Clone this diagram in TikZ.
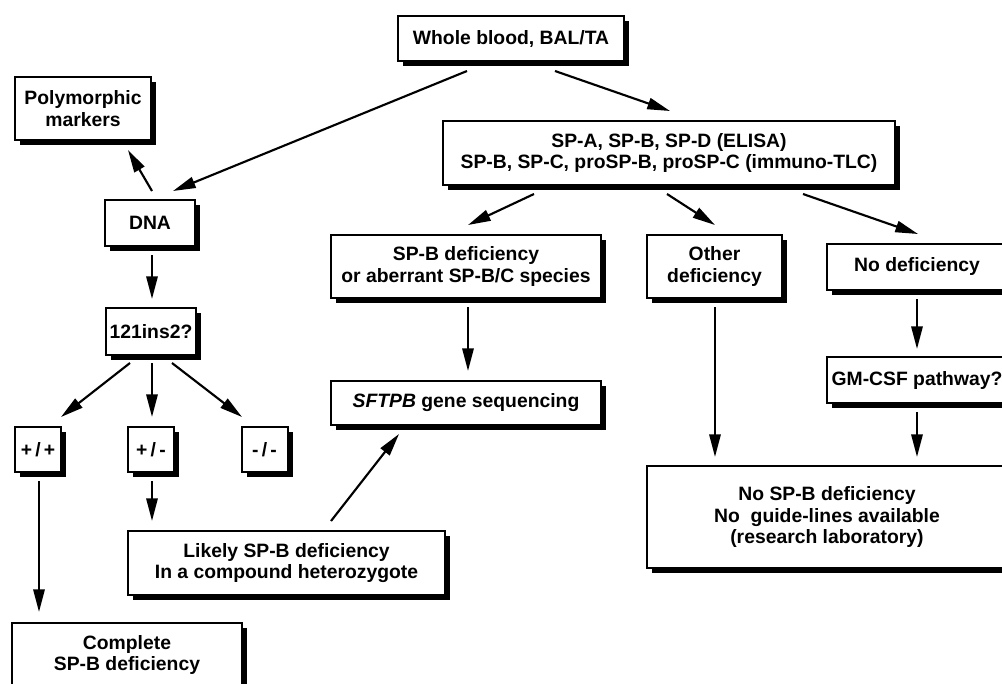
\documentclass[tikz,border=0pt]{standalone}
\usepackage{fontspec}
\setmainfont{Liberation Sans}
\usetikzlibrary{arrows.meta,shadows}

\begin{document}
\begin{tikzpicture}[x=0.75pt,y=-0.75pt,
		box/.style={draw, line width=1.5pt, fill=white, align=center, inner sep=2pt,
			font=\fontsize{14.5}{16.3}\selectfont\bfseries,
			drop shadow={shadow xshift=3.75pt, shadow yshift=-3.75pt, opacity=1, fill=black}},
		boxsize/.style 2 args={minimum width=#1*0.75pt, minimum height=#2*0.75pt},
		arr/.style={line width=1.6pt, -{Triangle[length=17pt,width=8.5pt]}}]
		\useasboundingbox (0,0) rectangle (1002,684);
		\clip (0,0) rectangle (1002,684);
		% boxes
		\node[box, boxsize={226}{45}] (blood) at (511,38.5) {Whole blood, BAL/TA};
		\node[box, boxsize={136}{63}] (poly) at (83,108.5) {Polymorphic\\markers};
		\node[box, boxsize={90}{46}] (dna) at (150,223) {DNA};
		\node[box, boxsize={90}{47}] (ins) at (151,331.5) {121ins2?};
		\node[box, boxsize={452}{64}] (spa) at (669,153) {SP-A, SP-B, SP-D (ELISA)\\SP-B, SP-C, proSP-B, proSP-C (immuno-TLC)};
		\node[box, boxsize={270}{63}] (spbdef) at (466,266.5) {SP-B deficiency\\or aberrant SP-B/C species};
		\node[box, boxsize={135}{63}] (other) at (714.5,266.5) {Other\\deficiency};
		\node[box, boxsize={180}{46}] (nodef) at (917,267) {No deficiency};
		\node[box, boxsize={180}{46}] (gmcsf) at (917,380) {GM-CSF pathway?};
		\node[box, boxsize={270}{44}] (sftpb) at (466,403) {\textit{SFTPB} gene sequencing};
		\node[box, boxsize={46}{45}] (pp) at (38,449.5) {+\,/\,+};
		\node[box, boxsize={46}{45}] (pm) at (151,449.5) {+\,/\,-};
		\node[box, boxsize={46}{45}] (mm) at (264.5,449.5) {-\,/\,-};
		\node[box, boxsize={317}{64}] (likely) at (286.5,563) {Likely SP-B deficiency\\In a compound heterozygote};
		\node[box, boxsize={230}{64}] (complete) at (127,655) {Complete\\SP-B deficiency};
		\node[box, boxsize={360}{102}] (nospb) at (827,517) {No SP-B deficiency\\No~ guide-lines available\\(research laboratory)};
		% arrows
		\draw[arr] ([shift={(-44,9)}]blood.south) -- ([shift={(23,-8)}]dna.north);
		\draw[arr] ([shift={(44,9)}]blood.south) -- ([shift={(1,-9)}]spa.north);
		\draw[arr] ([shift={(2,-8)}]dna.north) -- ([shift={(45,9)}]poly.south);
		\draw[arr] ([shift={(2,8)}]dna.south) -- ([shift={(1,-8)}]ins.north);
		\draw[arr] ([shift={(-21,7)}]ins.south) -- ([shift={(23,-9)}]pp.north);
		\draw[arr] ([shift={(1,7)}]ins.south) -- ([shift={(1,-9)}]pm.north);
		\draw[arr] ([shift={(21,7)}]ins.south) -- ([shift={(-22.5,-9)}]mm.north);
		\draw[arr] ([shift={(1,8)}]pp.south) -- ([shift={(-88,-10)}]complete.north);
		\draw[arr] ([shift={(1,8)}]pm.south) -- ([shift={(-134.5,-9)}]likely.north);
		\draw[arr] ([shift={(44.5,-9)}]likely.north) -- ([shift={(-67,8)}]sftpb.south);
		\draw[arr] ([shift={(-135,8)}]spa.south) -- ([shift={(2,-9)}]spbdef.north);
		\draw[arr] ([shift={(-2,8)}]spa.south) -- ([shift={(0.5,-9)}]other.north);
		\draw[arr] ([shift={(134,8)}]spa.south) -- ([shift={(1,-9)}]nodef.north);
		\draw[arr] ([shift={(2,8)}]spbdef.south) -- ([shift={(2,-9)}]sftpb.north);
		\draw[arr] ([shift={(0.5,8)}]other.south) -- ([shift={(-112,-8)}]nospb.north);
		\draw[arr] ([shift={(0,8)}]nodef.south) -- ([shift={(0,-7)}]gmcsf.north);
		\draw[arr] ([shift={(0,8)}]gmcsf.south) -- ([shift={(90,-8)}]nospb.north);
\end{tikzpicture}
\end{document}
